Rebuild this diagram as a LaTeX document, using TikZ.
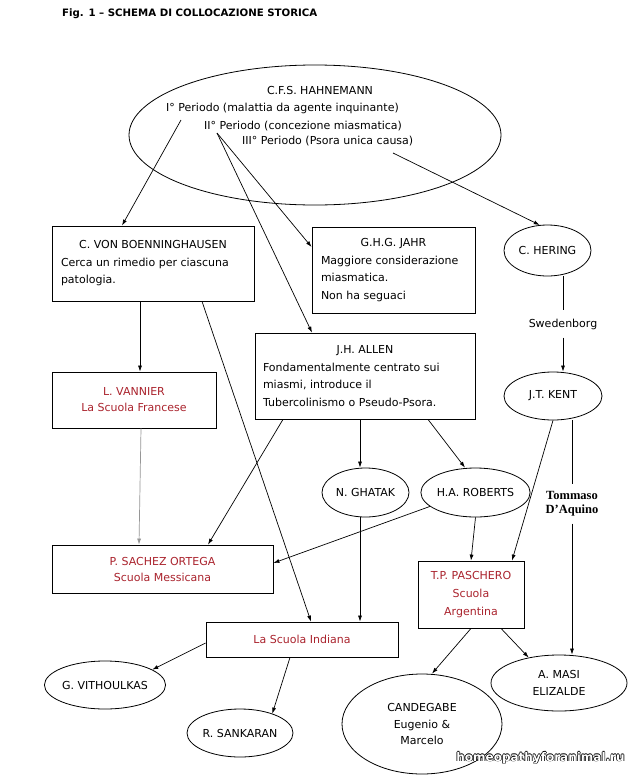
\documentclass[tikz,border=0pt]{standalone}
\usepackage{fontspec}
\setmainfont{DejaVu Sans}
\newfontfamily\tomfont{Liberation Serif}
\usetikzlibrary{shapes.geometric,arrows.meta,calc}
\definecolor{redtxt}{RGB}{170,35,45}
\definecolor{grayline}{RGB}{150,150,150}
\newcommand{\wmout}[1]{\leavevmode
  \rlap{\hspace{-0.7pt}\color{black}#1}%
  \rlap{\hspace{0.7pt}\color{black}#1}%
  \rlap{\raisebox{0.7pt}{\color{black}#1}}%
  \rlap{\raisebox{-0.7pt}{\color{black}#1}}%
  {\color{white}#1}}
\tikzset{
  txt/.style={font=\fontsize{11}{17.5}\selectfont},
  redt/.style={font=\fontsize{11}{16}\selectfont, text=redtxt},
  box/.style={draw, line width=0.8pt, inner sep=0pt, align=center},
  ell/.style={ellipse, draw, line width=0.8pt, inner sep=0pt, align=center, txt},
  arr/.style={-{Latex[length=6pt,width=4pt]}, line width=0.7pt},
  ln/.style={line width=0.7pt},
  lbl/.style={inner sep=0pt, txt}
}
\begin{document}
\begin{tikzpicture}[x=1pt,y=-1pt]
\useasboundingbox (0,0) rectangle (636,777);
\fill[white] (0,0) rectangle (636,777);

% title
\node[inner sep=0pt, anchor=west, font=\fontsize{10.2}{12}\selectfont\bfseries] (title) at (62,14) {Fig. 1 – SCHEMA DI COLLOCAZIONE STORICA};

% Hahnemann
\node[ell, minimum width=372pt, minimum height=140pt] (hahn) at (315,135) {};
\node[lbl] (hahnt) at (320,90) {C.F.S. HAHNEMANN};
\node[lbl, anchor=west] (p1) at (166,108) {I° Periodo (malattia da agente inquinante)};
\node[lbl, anchor=west] (p2) at (204,126) {II° Periodo (concezione miasmatica)};
\node[lbl, anchor=west] (p3) at (242,141) {III° Periodo (Psora unica causa)};
\coordinate (s1) at (181,120);
\coordinate (s2) at (217,133);
\coordinate (s3) at (393,153);

% boxes
\node[box, txt, minimum width=202pt, minimum height=75pt] (boen) at (153,263.5)
  {\parbox{184pt}{\centering C. VON BOENNINGHAUSEN\par\raggedright Cerca un rimedio per ciascuna\\patologia.}};
\node[box, txt, minimum width=163pt, minimum height=86pt] (jahr) at (393.5,270)
  {\parbox{145pt}{\centering G.H.G. JAHR\par\raggedright Maggiore considerazione\\miasmatica.\\Non ha seguaci}};
\node[box, txt, minimum width=220pt, minimum height=86pt] (allen) at (365,376)
  {\parbox{204pt}{\centering J.H. ALLEN\par\raggedright Fondamentalmente centrato sui\\miasmi, introduce il\\Tubercolinismo o Pseudo-Psora.}};
\node[box, redt, minimum width=164pt, minimum height=56pt] (vann) at (134,400)
  {L. VANNIER\\La Scuola Francese};
\node[box, redt, minimum width=221pt, minimum height=48pt] (sach) at (162.5,569)
  {P. SACHEZ ORTEGA\\Scuola Messicana};
\node[box, redt, minimum width=192pt, minimum height=35pt] (ind) at (302,639.5)
  {La Scuola Indiana};
\node[box, redt, font=\fontsize{11}{18}\selectfont, minimum width=106pt, minimum height=67pt] (pasch) at (471,594.5)
  {T.P. PASCHERO\\Scuola\\Argentina};

% ellipses
\node[ell, minimum width=87pt, minimum height=51pt] (her) at (547.5,250.5) {C. HERING};
\node[ell, minimum width=98pt, minimum height=48pt] (kent) at (553,396) {J.T. KENT};
\node[ell, minimum width=87pt, minimum height=49pt] (ghat) at (365.5,492.5) {N. GHATAK};
\node[ell, minimum width=97pt, minimum height=49pt] (rob) at (475.5,492.5) {H.A. ROBERTS};
\node[ell, minimum width=106pt, minimum height=48pt] (vith) at (105,685) {G. VITHOULKAS};
\node[ell, minimum width=106pt, minimum height=48pt] (sank) at (240,733) {R. SANKARAN};
\node[ell, font=\fontsize{11}{16.5}\selectfont, minimum width=160pt, minimum height=100pt] (cand) at (422,724) {CANDEGABE\\Eugenio \&\\Marcelo};
\node[ell, font=\fontsize{11}{17}\selectfont, minimum width=136pt, minimum height=56pt] (masi) at (559,683) {A. MASI\\ELIZALDE};

% labels on lines
\node[lbl, inner ysep=8pt] (swed) at (563,324) {Swedenborg};
\node[inner xsep=0pt, inner ysep=7pt, align=center, font=\tomfont\bfseries\fontsize{12.5}{14}\selectfont] (tom) at (572,504) {Tommaso\\D’Aquino};

% connectors
\draw[arr] (s1) -- ([xshift=-31pt]boen.north);
\draw[arr] (s2) -- ([yshift=23pt]jahr.west);
\draw[arr] (s2) -- ([xshift=-53pt]allen.north);
\draw[arr] (s3) -- (her.107);
\draw[ln] (swed |- her.south) -- (swed.north);
\draw[arr] (swed.south) -- (swed |- kent.north);
\draw[arr] (kent.south) -- ([xshift=41pt]pasch.north);
\draw[ln] (tom |- kent.south) -- (tom.north);
\draw[arr] (tom.south) -- (tom |- masi.north);
\draw[arr] ([xshift=-13pt]boen.south) -- ([xshift=6pt]vann.north);
\draw[arr] ([xshift=49pt]boen.south) -- ([xshift=9pt]ind.north);
\draw[arr] ([xshift=-82pt]allen.south) -- ([xshift=45.5pt]sach.north);
\draw[arr, grayline] ([xshift=7pt]vann.south) -- ([xshift=-23.5pt]sach.north);
\draw[arr] ([xshift=-5pt]allen.south) -- ([xshift=-5.5pt]ghat.north);
\draw[arr] ([xshift=63pt]allen.south) -- ([xshift=-10.5pt]rob.north);
\draw[arr] ([xshift=-5.5pt]ghat.south) -- ([xshift=58pt]ind.north);
\draw[arr] (rob.197) -- ([yshift=6pt]sach.east);
\draw[arr] (rob.south) -- (pasch.north);
\draw[arr] (pasch.south) -- ([xshift=10pt]cand.north);
\draw[arr] ([xshift=30pt]pasch.south) -- (masi.140);
\draw[arr] ([yshift=-3.5pt]ind.west) -- (vith.18);
\draw[arr] ([xshift=-12pt]ind.south) -- (sank.31);

% watermark
\node[inner sep=0pt, font=\fontsize{12}{14}\selectfont\bfseries] (wm) at (540.5,758) {\wmout{homeopathyforanimal.ru}};
\end{tikzpicture}
\end{document}
